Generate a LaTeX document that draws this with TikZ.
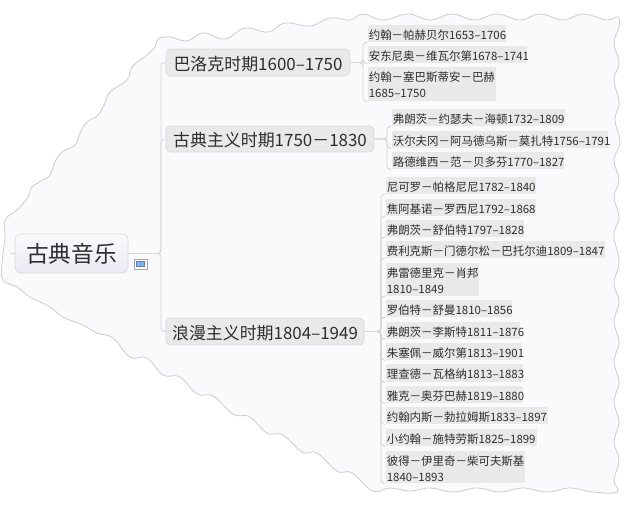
\documentclass[tikz,border=0pt]{standalone}
\usepackage{fontspec}
\setmainfont{Noto Sans CJK SC}
\definecolor{cloudfill}{HTML}{FAFAFD}
\definecolor{cloudline}{HTML}{C9C9C9}
\definecolor{leaffill}{HTML}{E9E9E9}
\definecolor{branchfill}{HTML}{E9E9E9}
\definecolor{branchline}{HTML}{D9D9D9}
\definecolor{conn}{HTML}{D6D6D6}
\definecolor{inktext}{HTML}{2E2E2E}
\definecolor{rootlow}{HTML}{E9EAF3}
\definecolor{iconblue}{HTML}{7FB2EE}
\definecolor{iconedge}{HTML}{5F7FA8}
\definecolor{iconline}{HTML}{A6A6A6}
\tikzset{
  leafbox/.style={fill=leaffill,rectangle,inner xsep=0.6pt,inner ysep=0pt,align=left,text=inktext,
    font=\fontsize{8.6}{12}\selectfont},
  branchbox/.style={draw=branchline,line width=.5pt,fill=branchfill,rounded corners=3.5pt,inner sep=0pt,text=inktext,
    font=\fontsize{12.7}{15}\selectfont},
  rootbox/.style={draw=branchline,line width=.5pt,top color=cloudfill,bottom color=rootlow,rounded corners=4.5pt,inner sep=0pt,
    text=inktext,font=\fontsize{17}{20}\selectfont},
  connline/.style={draw=conn,line width=.7pt,rounded corners=2.5pt},
  cloudshape/.style={draw=cloudline,line width=.55pt,fill=cloudfill}
}
\newcommand{\branchlift}{\rule{0pt}{12.7pt}}
% style, x0, y0, x1, y1, name, text (pixel corners of the reference)
\newcommand{\placebox}[7]{%
  \node[#1,minimum width={(#4-#2)*.75pt},minimum height={(#5-#3)*.75pt}] (#6) at ({(#2+#4)/2},{(#3+#5)/2}) {#7};}
\newcommand{\leafitem}[6]{%
  \node[leafbox,text width={(#4-#2)*.75pt-1.2pt},minimum height={(#5-#3)*.75pt}] (#1) at ({(#2+#4)/2},{(#3+#5)/2}) {\rule{0pt}{9.1pt}#6};}
\begin{document}
\begin{tikzpicture}[x=.75pt,y=-.75pt]
\useasboundingbox (0,0) rectangle (634,508);
\fill[white] (0,0) rectangle (634,508);
% cloud
\draw[cloudshape] plot[smooth cycle,tension=.7] coordinates {
 (43,180)(32,187)(28,197)(17,210)(5,220)(5,237)(2,263)(3,280)(17,287)(30,297)(50,307)(63,317)(83,325)(97,333)(113,338)
 (130,357)(147,358)(163,375)(180,377)(197,394)(213,396)(233,414)(250,417)(267,433)(283,435)(302,452)(317,453)(337,471)(352,473)(373,491)
 (390,488)(410,491)(430,488)(453,492)(477,488)(500,492)(523,488)(547,492)(570,488)(593,492)(617,492)
 (614,480)(619,460)(614,442)(619,422)(614,402)(619,382)(614,362)(619,342)(614,322)(619,302)(614,283)(619,262)
 (614,235)(619,217)(614,197)(619,180)(614,160)(620,142)(615,120)(619,102)(614,80)(619,63)(614,43)(619,27)(618,17)
 (607,20)(583,14)(563,20)(540,14)(520,20)(497,14)(475,20)(452,14)(430,20)(408,14)(383,20)(363,14)(350,20)(330,18)(310,26)(285,23)(268,32)(245,28)(225,39)(203,33)(187,41)(170,37)
 (158,39)(155,47)(147,55)(132,67)(127,80)(110,92)(105,103)(98,115)(87,122)(80,133)(75,145)(62,152)(55,162)(50,175)
};
% named connector guides
\coordinate (spine) at (161,200);
\coordinate (brA) at (363,60);
\coordinate (brB) at (387,140);
\coordinate (brC) at (381,300);
\coordinate (stub) at (11,254);
% nodes
\placebox{rootbox}{15}{234}{128}{273}{root}{古典音乐}
\placebox{branchbox}{166}{49}{350}{76}{ba}{\branchlift 巴洛克时期1600–1750}
\placebox{branchbox}{166}{126}{374}{152}{gu}{\branchlift 古典主义时期1750－1830}
\placebox{branchbox}{166}{318}{364}{345}{la}{\branchlift 浪漫主义时期1804–1949}
\leafitem{a1}{368}{25}{506}{42}{\mbox{约翰－帕赫贝尔1653–1706}}
\leafitem{a2}{368}{46}{527}{63}{\mbox{安东尼奥－维瓦尔第1678–1741}}
\leafitem{a3}{368}{67}{496}{101}{\mbox{约翰－塞巴斯蒂安－巴赫}\\\mbox{1685–1750}}
\leafitem{b1}{392}{109}{565}{126}{\mbox{弗朗茨－约瑟夫－海顿1732–1809}}
\leafitem{b2}{392}{131}{608}{148}{\mbox{沃尔夫冈－阿马德乌斯－莫扎特1756–1791}}
\leafitem{b3}{392}{152}{564}{169}{\mbox{路德维西－范－贝多芬1770–1827}}
\leafitem{c1}{386}{177}{536}{194}{\mbox{尼可罗－帕格尼尼1782–1840}}
\leafitem{c2}{386}{199}{536}{216}{\mbox{焦阿基诺－罗西尼1792–1868}}
\leafitem{c3}{386}{220}{524}{237}{\mbox{弗朗茨－舒伯特1797–1828}}
\leafitem{c4}{386}{241}{605}{258}{\mbox{费利克斯－门德尔松－巴托尔迪1809–1847}}
\leafitem{c5}{386}{263}{479}{296}{\mbox{弗雷德里克－肖邦}\\\mbox{1810–1849}}
\leafitem{c6}{386}{300}{512}{317}{\mbox{罗伯特－舒曼1810–1856}}
\leafitem{c7}{386}{322}{520}{339}{\mbox{弗朗茨－李斯特1811–1876}}
\leafitem{c8}{386}{343}{521}{360}{\mbox{朱塞佩－威尔第1813–1901}}
\leafitem{c9}{386}{364}{523}{382}{\mbox{理查德－瓦格纳1813–1883}}
\leafitem{c10}{386}{386}{523}{403}{\mbox{雅克－奥芬巴赫1819–1880}}
\leafitem{c11}{386}{407}{548}{424}{\mbox{约翰内斯－勃拉姆斯1833–1897}}
\leafitem{c12}{386}{429}{537}{446}{\mbox{小约翰－施特劳斯1825–1899}}
\leafitem{c13}{386}{451}{525}{483}{\mbox{彼得－伊里奇－柴可夫斯基}\\\mbox{1840–1893}}
% icon
\node[draw=iconline,fill=white,line width=.5pt,minimum width=9.5pt,minimum height=7.5pt,inner sep=0pt] (icon) at (140.5,264) {};
\node[fill=iconblue,draw=iconedge,line width=.3pt,minimum width=5.8pt,minimum height=3.5pt,inner sep=0pt] (iconin) at (icon.center) {};
% connectors
\draw[connline] (root.east) -- (root.east -| spine) |- (ba.west);
\draw[connline] (root.east) -- (root.east -| spine) |- (gu.west);
\draw[connline] (root.east) -- (root.east -| spine) |- (la.west);
\draw[connline] (root.west) -- (root.west -| stub);
\foreach \n in {a1,a2,a3}{\draw[connline] (ba.east) -- (ba.east -| brA) |- (\n.south west);}
\foreach \n in {b1,b2,b3}{\draw[connline] (gu.east) -- (gu.east -| brB) |- (\n.south west);}
\foreach \n in {c1,c2,c3,c4,c5,c6,c7,c8,c9,c10,c11,c12,c13}{\draw[connline] (la.east) -- (la.east -| brC) |- (\n.south west);}
\end{tikzpicture}
\end{document}
